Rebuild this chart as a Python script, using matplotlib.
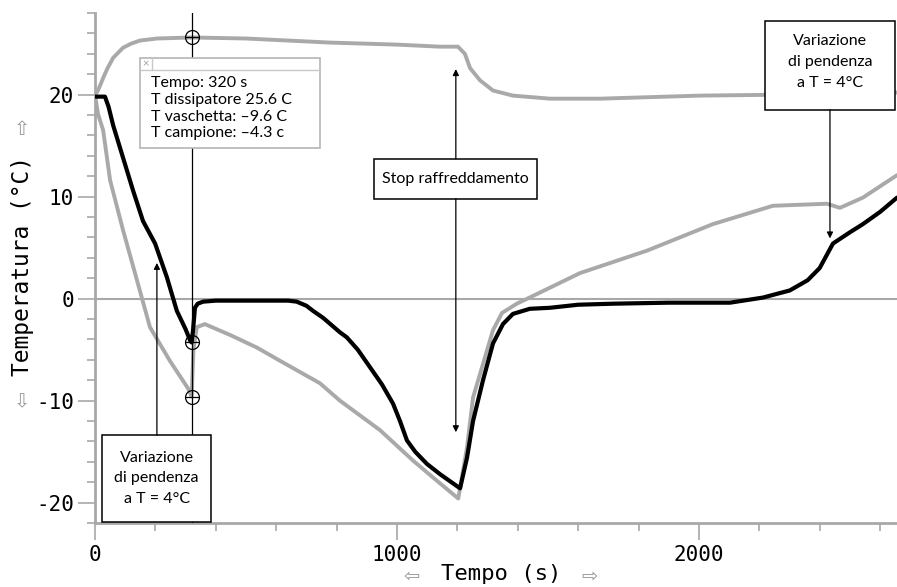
import matplotlib
matplotlib.use("Agg")
import matplotlib.pyplot as plt
from matplotlib.patches import Rectangle
from matplotlib.ticker import MultipleLocator

# ---- data ----
t_dissipatore = [0, 8, 17, 28, 40, 60, 93, 120, 149, 205, 320, 500, 778, 1000, 1142,
                 1202, 1225, 1242, 1275, 1318, 1384, 1507, 1672, 2003, 2300, 2656]
T_dissipatore = [20.0, 20.3, 20.9, 21.7, 22.5, 23.6, 24.6, 25.0, 25.3, 25.5, 25.6, 25.5,
                 25.1, 24.9, 24.7, 24.7, 24.0, 22.6, 21.4, 20.4, 19.9, 19.6, 19.6, 19.9,
                 20.0, 20.2]

t_vaschetta = [0, 10, 27, 50, 93, 139, 182, 248, 308, 320, 326, 337, 364, 450, 536, 613,
               745, 811, 944, 1054, 1130, 1203, 1232, 1252, 1285, 1318, 1348, 1397,
               1474, 1606, 1828, 2046, 2245, 2424, 2467, 2543, 2656]
T_vaschetta = [20.0, 18.1, 16.5, 11.6, 6.7, 1.8, -2.8, -6.1, -8.8, -9.6, -5.0, -2.8,
               -2.5, -3.6, -4.8, -6.1, -8.3, -10.0, -12.9, -15.9, -17.8, -19.6, -14.6,
               -9.7, -6.4, -3.1, -1.4, -0.5, 0.6, 2.5, 4.7, 7.3, 9.1, 9.3, 8.9, 9.9, 12.1]

t_campione = [0, 33, 45, 60, 93, 126, 159, 199, 238, 271, 300, 315, 320, 325, 331, 340,
              358, 400, 500, 600, 640, 668, 700, 722, 756, 811, 834, 870, 910, 950, 987,
              1010, 1033, 1060, 1099, 1142, 1185, 1209, 1232, 1252, 1285, 1318, 1351,
              1384, 1440, 1507, 1600, 1716, 1900, 2103, 2212, 2301, 2360, 2400, 2444,
              2500, 2543, 2600, 2656]
T_campione = [19.8, 19.8, 18.8, 17.0, 13.8, 10.6, 7.6, 5.4, 2.1, -1.2, -3.0, -4.1, -4.3,
              -3.0, -0.9, -0.5, -0.3, -0.2, -0.2, -0.2, -0.2, -0.3, -0.7, -1.2, -1.9,
              -3.3, -3.8, -5.0, -6.7, -8.4, -10.3, -12.0, -13.9, -15.0, -16.2, -17.2,
              -18.1, -18.6, -15.6, -12.0, -8.0, -4.4, -2.5, -1.5, -1.0, -0.9, -0.6,
              -0.5, -0.4, -0.4, 0.1, 0.8, 1.8, 3.0, 5.4, 6.5, 7.3, 8.5, 9.9]

cursor_t = 320
cursor_vals = [25.6, -9.6, -4.3]
info_lines = ["Tempo: 320 s", "T dissipatore 25.6 C", "T vaschetta: \u20139.6 C",
              "T campione: \u20134.3 c"]
note_lines = ['Variazione', 'di pendenza', 'a T = 4\u00b0C']

x_ticks = [0, 1000, 2000]
y_ticks = [-20, -10, 0, 10, 20]

# ---- figure ----
plt.rcParams['axes.unicode_minus'] = False
GRAY = '#a9a9a9'
AXG = '#a8a8a8'
MONO = 'DejaVu Sans Mono'
SANS = ['Lato', 'DejaVu Sans']

fig = plt.figure(figsize=(8.97, 5.87), dpi=100)
ax = fig.add_axes([95 / 897, 64 / 587, 802 / 897, 510 / 587])
ax.set_xlim(0, 2656)
ax.set_ylim(-22, 28)

for s in ['top', 'right']:
    ax.spines[s].set_visible(False)
for s in ['left', 'bottom']:
    ax.spines[s].set_color(AXG)
    ax.spines[s].set_linewidth(2)

ax.set_xticks(x_ticks)
ax.set_yticks(y_ticks)
ax.xaxis.set_minor_locator(MultipleLocator(200))
ax.yaxis.set_minor_locator(MultipleLocator(2))
ax.tick_params(which='major', length=12, width=1.2, color=AXG, labelsize=15,
               labelcolor='black')
ax.tick_params(which='minor', length=6, width=1.2, color=AXG)
ax.tick_params(axis='y', pad=3)
ax.tick_params(axis='x', pad=4)
for lab in ax.get_xticklabels() + ax.get_yticklabels():
    lab.set_fontfamily(MONO)

ax.axhline(0, color=AXG, lw=1.5, zorder=1)

line_kw = dict(solid_joinstyle='round', solid_capstyle='round')
ax.plot(t_dissipatore, T_dissipatore, color=GRAY, lw=2.8, zorder=2, **line_kw)
ax.plot(t_vaschetta, T_vaschetta, color=GRAY, lw=2.8, zorder=2, **line_kw)
ax.plot(t_campione, T_campione, color='black', lw=3.0, zorder=3, **line_kw)

# cursor
ax.axvline(cursor_t, color='black', lw=0.9, zorder=4)
ax.plot([cursor_t] * 3, cursor_vals, 'o', mfc='none', mec='black', ms=10, mew=0.9, zorder=5)
ax.plot([cursor_t] * 3, cursor_vals, '_', mec='black', ms=10, mew=0.9, zorder=5)

# info box
ax.add_patch(Rectangle((149, 14.8), 596, 8.8, fc='white', ec='#b5b5b5', lw=1.2, zorder=6))
ax.plot([149, 745], [22.45, 22.45], color='#c8c8c8', lw=1, zorder=7)
ax.plot([189, 189], [22.45, 23.6], color='#c8c8c8', lw=1, zorder=7)
ax.text(169, 23.02, '\u00d7', color='#a0a0a0', fontsize=8, ha='center', va='center',
        family=SANS, zorder=7)
for i, line in enumerate(info_lines):
    ax.text(185, 21.1 - i * 1.63, line, fontsize=11.5, family=SANS, ha='left',
            va='center', zorder=7)

arrow_kw = dict(arrowstyle='-|>', color='black', lw=0.9, mutation_scale=9,
                shrinkA=0, shrinkB=0)
box_kw = dict(fc='white', ec='black', lw=1.1, zorder=8)

# bottom-left box
ax.add_patch(Rectangle((23, -21.9), 361, 8.5, **box_kw))
ax.annotate('', xy=(205, 3.5), xytext=(205, -13.4), arrowprops=arrow_kw, zorder=8)
for i, line in enumerate(note_lines):
    ax.text(204, -15.6 - i * 2.0, line, fontsize=11.5, family=SANS, ha='center',
            va='center', zorder=9)

# middle box
ax.add_patch(Rectangle((924, 9.8), 540, 3.9, **box_kw))
ax.annotate('', xy=(1195, 22.5), xytext=(1195, 13.7), arrowprops=arrow_kw, zorder=8)
ax.annotate('', xy=(1195, -13.1), xytext=(1195, 9.8), arrowprops=arrow_kw, zorder=8)
ax.text(1194, 11.75, 'Stop raffreddamento', fontsize=11.5, family=SANS, ha='center',
        va='center', zorder=9)

# right box
ax.add_patch(Rectangle((2219, 18.5), 430, 8.7, **box_kw))
ax.annotate('', xy=(2434, 5.9), xytext=(2434, 18.5), arrowprops=arrow_kw, zorder=8)
for i, line in enumerate(note_lines):
    ax.text(2434, 25.3 - i * 2.1, line, fontsize=11.5, family=SANS, ha='center',
            va='center', zorder=9)

# axis labels
ax.set_xlabel('Tempo (s)', fontsize=16, family=MONO, va='center')
ax.xaxis.set_label_coords((501 - 95) / 802, (523 - 574) / 510)
ax.set_ylabel('Temperatura (\u00b0C)', fontsize=16.5, family=MONO, va='center')
ax.yaxis.set_label_coords((23 - 95) / 802, (523 - 266) / 510)

arrow_txt = dict(color='#9a9a9a', fontsize=14, ha='center', va='center',
                 family='DejaVu Sans')
fig.text(412 / 897, 1 - 577 / 587, '\u21e6', **arrow_txt)
fig.text(590 / 897, 1 - 577 / 587, '\u21e8', **arrow_txt)
fig.text(22 / 897, 1 - 129 / 587, '\u21e7', **arrow_txt)
fig.text(22 / 897, 1 - 402 / 587, '\u21e9', **arrow_txt)

fig.savefig('out.png', dpi=100)
